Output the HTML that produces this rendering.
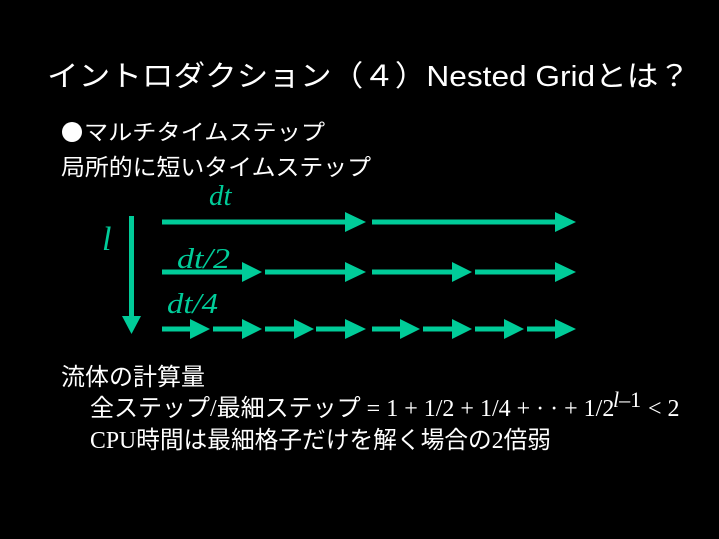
<!DOCTYPE html>
<html><head><meta charset="utf-8"><style>
html,body{margin:0;padding:0;background:#000;}
svg{display:block;}
.w{fill:#fff;font-family:"Liberation Sans","Noto Sans CJK JP",sans-serif;}
.m{fill:#fff;font-family:"Liberation Serif","Noto Sans CJK JP",serif;}
.t{fill:#00CC99;font-family:"Liberation Serif",serif;font-style:italic;}
</style></head><body>
<svg width="719" height="539" viewBox="0 0 719 539" xmlns="http://www.w3.org/2000/svg">
<rect width="719" height="539" fill="#000"/>
<text class="w" x="47" y="86" font-size="29" textLength="643" lengthAdjust="spacingAndGlyphs">イントロダクション（４）Nested Gridとは？</text>
<circle cx="72" cy="132" r="10" fill="#fff"/>
<text class="w" x="84" y="140" font-size="22" textLength="241" lengthAdjust="spacingAndGlyphs">マルチタイムステップ</text>
<text class="w" x="61" y="175" font-size="23" textLength="310" lengthAdjust="spacingAndGlyphs">局所的に短いタイムステップ</text>

<text class="t" x="209" y="205" font-size="29">dt</text>
<text class="t" x="102" y="250" font-size="34">l</text>
<text class="t" x="177" y="268" font-size="29" textLength="53" lengthAdjust="spacingAndGlyphs">dt/2</text>
<text class="t" x="167" y="313" font-size="29" textLength="51" lengthAdjust="spacingAndGlyphs">dt/4</text>

<g fill="#00CC99">
<rect x="129" y="216" width="5" height="102"/>
<polygon points="122,316 141,316 131.5,334"/>
</g>
<g fill="#00CC99">
<rect x="162" y="219.5" width="186" height="5"/><polygon points="345,212 345,232 366,222"/>
<rect x="372" y="219.5" width="186" height="5"/><polygon points="555,212 555,232 576,222"/>
<rect x="162" y="269.5" width="84" height="5"/><polygon points="242,262 242,282 262,272"/>
<rect x="265" y="269.5" width="84" height="5"/><polygon points="345,262 345,282 366,272"/>
<rect x="372" y="269.5" width="84" height="5"/><polygon points="452,262 452,282 472,272"/>
<rect x="475" y="269.5" width="84" height="5"/><polygon points="555,262 555,282 576,272"/>
<rect x="162" y="326.5" width="32" height="5"/><polygon points="190,319 190,339 210,329"/>
<rect x="213" y="326.5" width="32" height="5"/><polygon points="242,319 242,339 262,329"/>
<rect x="265" y="326.5" width="32" height="5"/><polygon points="294,319 294,339 314,329"/>
<rect x="316" y="326.5" width="32" height="5"/><polygon points="345,319 345,339 366,329"/>
<rect x="372" y="326.5" width="32" height="5"/><polygon points="400,319 400,339 420,329"/>
<rect x="423" y="326.5" width="32" height="5"/><polygon points="452,319 452,339 472,329"/>
<rect x="475" y="326.5" width="32" height="5"/><polygon points="504,319 504,339 524,329"/>
<rect x="527" y="326.5" width="32" height="5"/><polygon points="555,319 555,339 576,329"/>
</g>

<text class="w" x="61" y="385" font-size="24" textLength="144" lengthAdjust="spacingAndGlyphs">流体の計算量</text>
<text class="m" x="90" y="416" font-size="24"><tspan font-family="Liberation Sans,Noto Sans CJK JP,sans-serif">全ステップ</tspan>/<tspan font-family="Liberation Sans,Noto Sans CJK JP,sans-serif">最細ステップ</tspan> = 1 + 1/2 + 1/4 + · · + 1/2</text>
<text class="m" x="613" y="407" font-size="22"><tspan font-style="italic">l</tspan>–1</text>
<text class="m" x="648" y="416" font-size="24">&lt; 2</text>
<text class="m" x="90" y="448" font-size="24" textLength="461" lengthAdjust="spacingAndGlyphs">CPU<tspan font-family="Liberation Sans,Noto Sans CJK JP,sans-serif">時間は最細格子だけを解く場合の</tspan>2<tspan font-family="Liberation Sans,Noto Sans CJK JP,sans-serif">倍弱</tspan></text>
</svg>
</body></html>
